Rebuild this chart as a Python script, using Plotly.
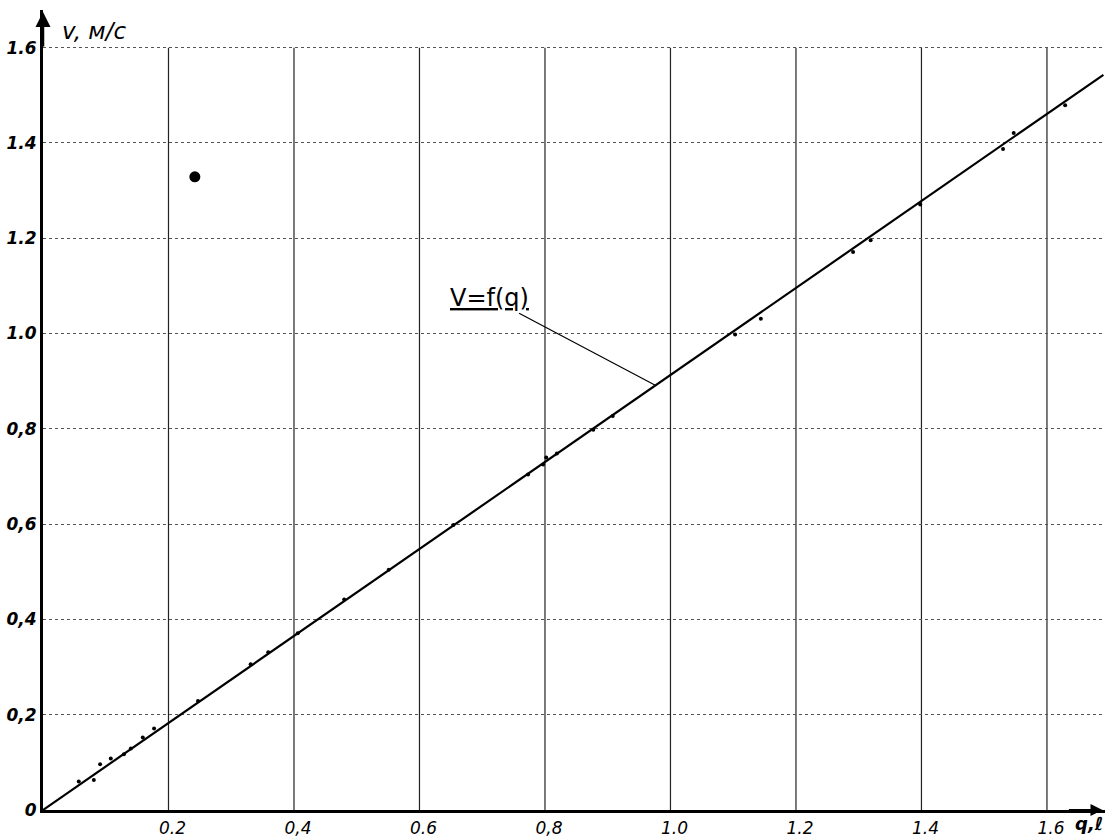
import plotly.graph_objects as go

# Measured points (q, v)
q_points = [0.057, 0.081, 0.091, 0.108, 0.129, 0.140, 0.159, 0.177, 0.247, 0.331, 0.359,
            0.406, 0.480, 0.551, 0.654, 0.773, 0.797, 0.802, 0.819, 0.877, 0.908,
            1.103, 1.144, 1.291, 1.319, 1.398, 1.530, 1.547, 1.629]
v_points = [0.060, 0.063, 0.096, 0.108, 0.117, 0.129, 0.152, 0.171, 0.229, 0.306, 0.331,
            0.371, 0.442, 0.504, 0.598, 0.704, 0.725, 0.740, 0.748, 0.798, 0.827,
            0.998, 1.031, 1.171, 1.196, 1.271, 1.3875, 1.421, 1.479]

# Hand-drawn fitted line V=f(q)
fit_q = [0.0, 1.69]
fit_v = [0.0, 1.543]

# Ink blot on the sheet
blot_q = [0.242]
blot_v = [1.329]

x_tick_vals = [0.2, 0.4, 0.6, 0.8, 1.0, 1.2, 1.4, 1.6]
x_tick_text = ["0.2", "0,4", "0.6", "0,8", "1.0", "1.2", "1.4", "1.6"]
y_tick_vals = [0, 0.2, 0.4, 0.6, 0.8, 1.0, 1.2, 1.4, 1.6]
y_tick_text = ["0", "0,2", "0,4", "0,6", "0,8", "1.0", "1.2", "1.4", "1.6"]

X_MAX = 1.6925
Y_MAX = 1.679

fig = go.Figure()
fig.add_trace(go.Scatter(x=fit_q, y=fit_v, mode="lines",
                         line=dict(color="black", width=2.2), showlegend=False, hoverinfo="skip"))
fig.add_trace(go.Scatter(x=q_points, y=v_points, mode="markers",
                         marker=dict(color="black", size=4), showlegend=False))
fig.add_trace(go.Scatter(x=blot_q, y=blot_v, mode="markers",
                         marker=dict(color="black", size=11), showlegend=False))

# vertical grid lines (stop at the top tick)
for xv in x_tick_vals:
    fig.add_shape(type="line", x0=xv, x1=xv, y0=0, y1=max(y_tick_vals),
                  xref="x", yref="y", line=dict(color="#222", width=1.2), layer="below")

font_x = dict(family="DejaVu Sans", size=17, color="black")
font_y = dict(family="DejaVu Sans", size=17, color="black")

fig.update_layout(
    width=1107, height=840,
    margin=dict(l=43, r=2, t=10, b=24),
    paper_bgcolor="white", plot_bgcolor="white",
    xaxis=dict(range=[0, X_MAX], tickmode="array", tickvals=x_tick_vals,
               ticktext=["<i>" + t + "</i>" for t in x_tick_text],
               showgrid=False, zeroline=False, showline=True, linecolor="black", linewidth=3,
               ticks="", tickfont=font_x, ticklabelshift=4, ticklabelstandoff=1),
    yaxis=dict(range=[0, Y_MAX], tickmode="array", tickvals=y_tick_vals,
               ticktext=["<b><i>" + t + "</i></b>" for t in y_tick_text],
               showgrid=True, gridcolor="#555", gridwidth=1, griddash="dot",
               zeroline=False, showline=True, linecolor="black", linewidth=3,
               ticks="", tickfont=font_y, ticklabelstandoff=0),
)

# axis arrows
fig.add_annotation(x=X_MAX - 0.004, y=0, ax=X_MAX - 0.06, ay=0, xref="x", yref="y",
                   axref="x", ayref="y", text="", showarrow=True, arrowhead=2,
                   arrowsize=1.2, arrowwidth=2, arrowcolor="black")
fig.add_annotation(x=0, y=Y_MAX - 0.004, ax=0, ay=Y_MAX - 0.08, xref="x", yref="y",
                   axref="x", ayref="y", text="", showarrow=True, arrowhead=2,
                   arrowsize=1.2, arrowwidth=2.5, arrowcolor="black")

# axis titles
fig.add_annotation(x=0.027, y=1.635, xref="x", yref="y", xanchor="left", yanchor="middle",
                   text="<i>v, м/с</i>", showarrow=False,
                   font=dict(family="DejaVu Sans", size=23, color="black"))
fig.add_annotation(x=1.0, y=0, xref="paper", yref="paper", xanchor="right", yanchor="top",
                   yshift=-1, text="<b><i>q,ℓ</i></b>", showarrow=False,
                   font=dict(family="DejaVu Sans", size=18, color="black"))

# label of the fitted line
fig.add_annotation(x=0.975, y=0.892, ax=0.712, ay=1.075, xref="x", yref="y",
                   axref="x", ayref="y", text="<u>V=f(q)</u>", showarrow=True,
                   arrowhead=0, arrowwidth=1.2, arrowcolor="black",
                   font=dict(family="DejaVu Sans", size=24, color="black"))

fig.write_html("out.html", config={"displayModeBar": False},
               post_script="document.body.style.margin='0';document.body.style.overflow='hidden';")
